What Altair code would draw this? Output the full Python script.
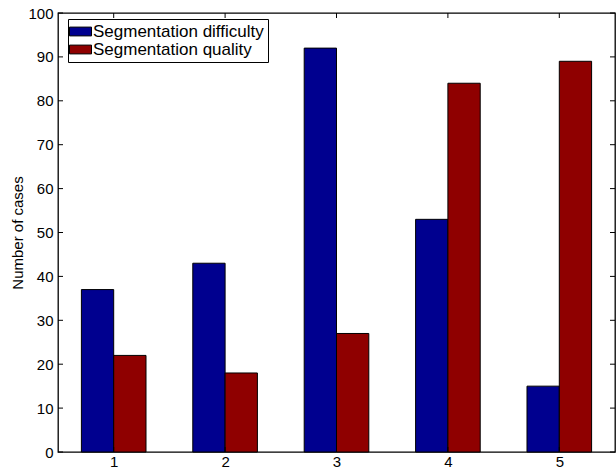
import altair as alt
import pandas as pd

cases = [1, 2, 3, 4, 5]
difficulty = [37, 43, 92, 53, 15]
quality = [22, 18, 27, 84, 89]
series_names = ["Segmentation difficulty", "Segmentation quality"]
series_colors = ["#00008f", "#8f0000"]
y_ticks = [0, 10, 20, 30, 40, 50, 60, 70, 80, 90, 100]

BAR_W = 0.29
W, H = 557, 439
FONT = "Liberation Sans"

rows = []
for i, c in enumerate(cases):
    for k, (name, vals) in enumerate(zip(series_names, [difficulty, quality])):
        x0 = c - BAR_W + k * BAR_W
        rows.append({"case": c, "series": name, "value": vals[i],
                     "x0": x0, "x1": x0 + BAR_W})
df = pd.DataFrame(rows)
xt = pd.DataFrame({"t": cases})
yt = pd.DataFrame({"t": y_ticks})

xscale = alt.Scale(domain=[0.5, 5.5], nice=False, zero=False)
yscale = alt.Scale(domain=[0, 100], nice=False)

bars = alt.Chart(df).mark_bar(stroke="black", strokeWidth=1, opacity=1).encode(
    x=alt.X("x0:Q", scale=xscale,
            axis=alt.Axis(values=cases, format="d", title=None, tickSize=0,
                          labelPadding=2, labelFontSize=15, labelFont=FONT,
                          labelColor="black", domain=False, grid=False)),
    x2="x1:Q",
    y=alt.Y("value:Q", scale=yscale,
            axis=alt.Axis(values=y_ticks, title="Number of cases", tickSize=0,
                          labelPadding=5, labelFontSize=15, labelFont=FONT,
                          labelColor="black", titleFont=FONT, titleFontSize=15,
                          titleFontWeight="normal", titleColor="black",
                          titlePadding=2, domain=False, grid=False)),
    y2=alt.datum(0),
    color=alt.Color("series:N",
                    scale=alt.Scale(domain=series_names, range=series_colors),
                    legend=alt.Legend(title=None, orient="none", legendX=10, legendY=6,
                                      labelFont=FONT, labelFontSize=17, labelColor="black",
                                      labelLimit=0, labelOffset=4, rowPadding=0, padding=4,
                                      symbolType="M-2,-0.8H2V0.8H-2Z", symbolSize=121,
                                      symbolStrokeColor="black", symbolStrokeWidth=1,
                                      strokeColor="black", fillColor="white",
                                      cornerRadius=0)),
)

tick_style = dict(color="black", strokeWidth=1)
left_ticks = alt.Chart(yt).mark_rule(**tick_style).encode(
    y=alt.Y("t:Q", scale=yscale), x=alt.value(0), x2=alt.value(5))
right_ticks = alt.Chart(yt).mark_rule(**tick_style).encode(
    y=alt.Y("t:Q", scale=yscale), x=alt.value(W - 5), x2=alt.value(W))
bottom_ticks = alt.Chart(xt).mark_rule(**tick_style).encode(
    x=alt.X("t:Q", scale=xscale), y=alt.value(H - 5), y2=alt.value(H))
top_ticks = alt.Chart(xt).mark_rule(**tick_style).encode(
    x=alt.X("t:Q", scale=xscale), y=alt.value(0), y2=alt.value(5))

chart = alt.layer(bars, left_ticks, right_ticks, bottom_ticks, top_ticks).properties(
    width=W, height=H,
    autosize=alt.AutoSizeParams(type="none"),
    padding={"left": 58, "top": 13, "right": 1, "bottom": 18},
    background="white",
).configure_view(stroke="black", strokeWidth=1.3)

chart.save("out.html", embed_options={"renderer": "svg", "actions": False})
